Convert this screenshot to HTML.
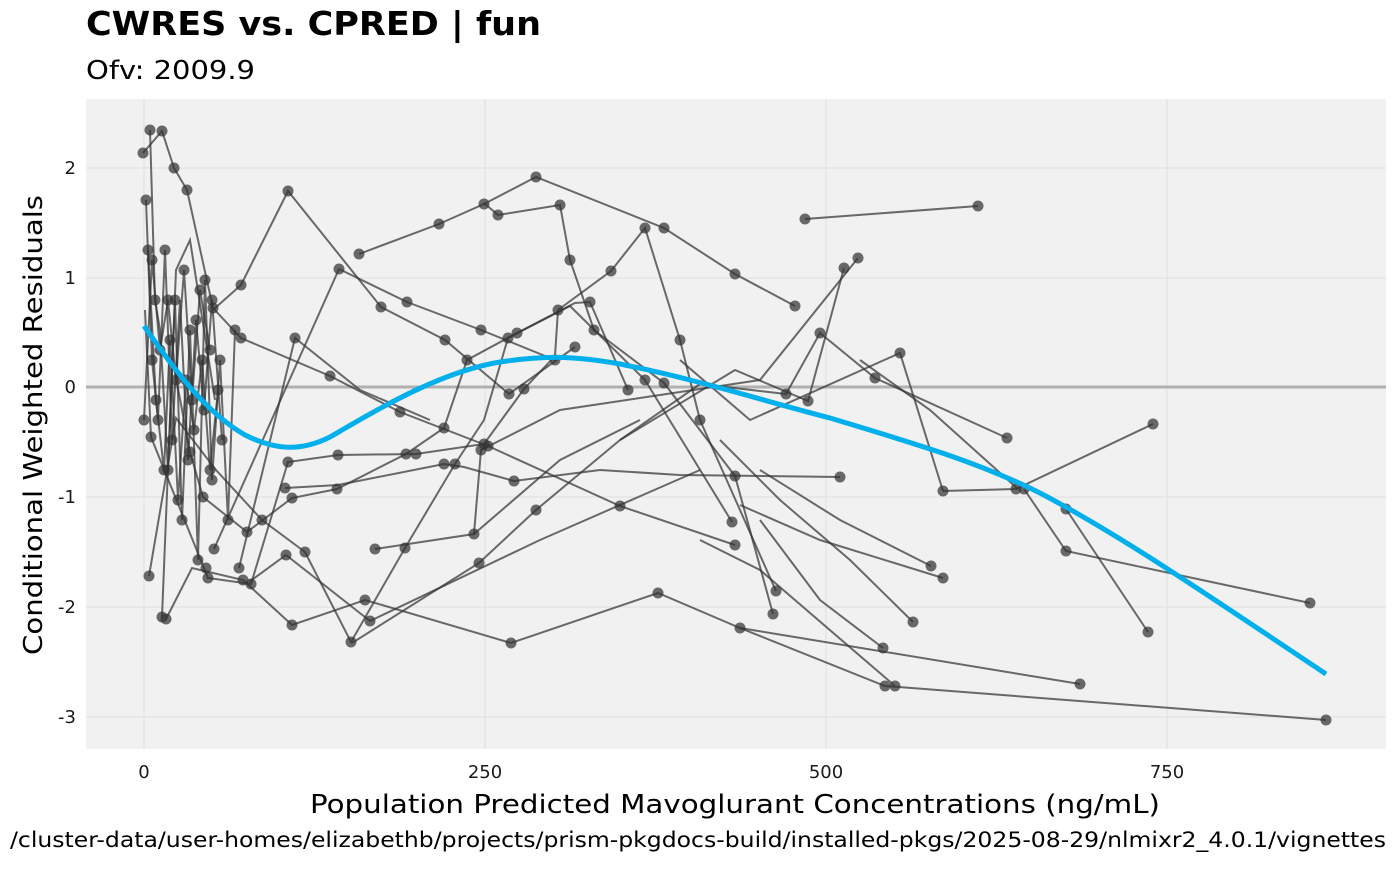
<!DOCTYPE html>
<html><head><meta charset="utf-8"><style>
body{margin:0;background:#fff;width:1400px;height:865px;overflow:hidden;font-family:"DejaVu Sans","Liberation Sans",sans-serif}
</style></head><body>
<svg width="1400" height="865" xmlns="http://www.w3.org/2000/svg" font-family="DejaVu Sans, Liberation Sans, sans-serif">
<rect x="86" y="99" width="1300" height="650" fill="#f1f1f1"/>
<g stroke="#e2e2e2" stroke-width="1.2">
<line x1="86" x2="1386" y1="168" y2="168"/><line x1="86" x2="1386" y1="278" y2="278"/><line x1="86" x2="1386" y1="497" y2="497"/><line x1="86" x2="1386" y1="607" y2="607"/><line x1="86" x2="1386" y1="717" y2="717"/>
<line y1="99" y2="749" x1="144" x2="144"/><line y1="99" y2="749" x1="485" x2="485"/><line y1="99" y2="749" x1="826" x2="826"/><line y1="99" y2="749" x1="1167" x2="1167"/>
</g>
<line x1="86" x2="1386" y1="387" y2="387" stroke="#b0b0b0" stroke-width="3"/>
<g fill="none" stroke="#333" stroke-opacity="0.72" stroke-width="2">
<polyline points="143,153 162,131 174,168 187,190 213,308 241,338 330,376 400,412 488,446 620,506 735,545"/>
<polyline points="214,309 241,285 288,191 381,307 445,340 509,394 575,347"/>
<polyline points="339,269 407,302 481,330 555,360"/>
<polyline points="214,549 339,269"/>
<polyline points="359,254 439,224 484,204 536,177 664,228 735,274 795,306"/>
<polyline points="805,219 978,206"/>
<polyline points="484,203 498,215 560,205 570,260 594,330 664,383 735,476 773,614"/>
<polyline points="145,310 151,437 208,578 251,584 288,462 338,455 416,454 484,444 524,389 555,356 558,310 611,271 645,228 680,340 700,420 776,591"/>
<polyline points="173,362 190,452 203,497 247,532 292,498 337,489 406,454 444,428 467,360 517,333 575,303 590,302 628,390"/>
<polyline points="149,576 176,418 216,470 262,520 305,552 351,642 405,548 455,464 484,420 508,338 570,306 645,380 732,522"/>
<polyline points="162,617 176,270 190,240 215,400"/>
<polyline points="166,619 192,568 243,580 292,625 365,600 511,643 658,593 740,628 885,686 1326,720"/>
<polyline points="352,643 479,563 536,510 620,440 700,384"/>
<polyline points="249,582 286,555 370,621 540,540 700,470"/>
<polyline points="375,549 474,534 560,460 640,420"/>
<polyline points="285,488 338,485 444,464 464,467 514,481 600,470 680,475 840,477"/>
<polyline points="474,534 481,450 560,410 660,395 760,380 858,258"/>
<polyline points="239,568 295,338 360,390 430,420"/>
<polyline points="620,440 735,370 808,401 844,268"/>
<polyline points="700,384 786,394 820,333 875,378 1007,438"/>
<polyline points="680,360 750,420 900,353 943,491"/>
<polyline points="1024,489 1066,551 1310,603"/>
<polyline points="1066,509 1148,632"/>
<polyline points="943,491 1016,489 1153,424"/>
<polyline points="1080,684 740,628"/>
<polyline points="895,686 760,570 700,540"/>
<polyline points="883,648 820,600 760,520"/>
<polyline points="913,622 850,560 780,500 720,440"/>
<polyline points="931,566 840,520 760,470"/>
<polyline points="943,578 820,540 740,505"/>
<polyline points="1018,489 930,410 860,360"/>
<polyline points="150,130 155,300 160,330 168,470 175,300 182,520 190,330 198,560 205,280 212,480 220,360 228,520 235,330"/>
<polyline points="146,200 152,360 158,420 165,250 172,440 180,300 188,460 196,320 204,410 212,300 222,440"/>
<polyline points="148,250 156,400 164,470 170,340 178,500 186,380 194,430 202,360 210,470 218,390"/>
<polyline points="144,420 152,260 160,350 168,300 176,380 184,270 192,400 200,290 210,350"/>
</g>
<g fill="#333" fill-opacity="0.72">
<circle cx="143" cy="153" r="5.5"/><circle cx="162" cy="131" r="5.5"/><circle cx="174" cy="168" r="5.5"/><circle cx="187" cy="190" r="5.5"/><circle cx="213" cy="308" r="5.5"/><circle cx="241" cy="338" r="5.5"/><circle cx="330" cy="376" r="5.5"/><circle cx="400" cy="412" r="5.5"/><circle cx="488" cy="446" r="5.5"/><circle cx="620" cy="506" r="5.5"/><circle cx="735" cy="545" r="5.5"/>
<circle cx="241" cy="285" r="5.5"/><circle cx="288" cy="191" r="5.5"/><circle cx="381" cy="307" r="5.5"/><circle cx="445" cy="340" r="5.5"/><circle cx="509" cy="394" r="5.5"/><circle cx="575" cy="347" r="5.5"/>
<circle cx="339" cy="269" r="5.5"/><circle cx="407" cy="302" r="5.5"/><circle cx="481" cy="330" r="5.5"/><circle cx="555" cy="360" r="5.5"/><circle cx="214" cy="549" r="5.5"/>
<circle cx="359" cy="254" r="5.5"/><circle cx="439" cy="224" r="5.5"/><circle cx="484" cy="204" r="5.5"/><circle cx="536" cy="177" r="5.5"/><circle cx="664" cy="228" r="5.5"/><circle cx="735" cy="274" r="5.5"/><circle cx="795" cy="306" r="5.5"/>
<circle cx="805" cy="219" r="5.5"/><circle cx="978" cy="206" r="5.5"/><circle cx="498" cy="215" r="5.5"/><circle cx="560" cy="205" r="5.5"/><circle cx="570" cy="260" r="5.5"/><circle cx="594" cy="330" r="5.5"/><circle cx="664" cy="383" r="5.5"/><circle cx="735" cy="476" r="5.5"/><circle cx="773" cy="614" r="5.5"/>
<circle cx="151" cy="437" r="5.5"/><circle cx="208" cy="578" r="5.5"/><circle cx="251" cy="584" r="5.5"/><circle cx="288" cy="462" r="5.5"/><circle cx="338" cy="455" r="5.5"/><circle cx="416" cy="454" r="5.5"/><circle cx="484" cy="444" r="5.5"/><circle cx="524" cy="389" r="5.5"/><circle cx="558" cy="310" r="5.5"/><circle cx="611" cy="271" r="5.5"/><circle cx="645" cy="228" r="5.5"/><circle cx="680" cy="340" r="5.5"/><circle cx="700" cy="420" r="5.5"/><circle cx="776" cy="591" r="5.5"/>
<circle cx="190" cy="452" r="5.5"/><circle cx="203" cy="497" r="5.5"/><circle cx="247" cy="532" r="5.5"/><circle cx="292" cy="498" r="5.5"/><circle cx="337" cy="489" r="5.5"/><circle cx="406" cy="454" r="5.5"/><circle cx="444" cy="428" r="5.5"/><circle cx="467" cy="360" r="5.5"/><circle cx="517" cy="333" r="5.5"/><circle cx="590" cy="302" r="5.5"/><circle cx="628" cy="390" r="5.5"/>
<circle cx="149" cy="576" r="5.5"/><circle cx="262" cy="520" r="5.5"/><circle cx="305" cy="552" r="5.5"/><circle cx="351" cy="642" r="5.5"/><circle cx="405" cy="548" r="5.5"/><circle cx="455" cy="464" r="5.5"/><circle cx="508" cy="338" r="5.5"/><circle cx="645" cy="380" r="5.5"/><circle cx="732" cy="522" r="5.5"/>
<circle cx="162" cy="617" r="5.5"/><circle cx="166" cy="619" r="5.5"/><circle cx="243" cy="580" r="5.5"/><circle cx="292" cy="625" r="5.5"/><circle cx="365" cy="600" r="5.5"/><circle cx="511" cy="643" r="5.5"/><circle cx="658" cy="593" r="5.5"/><circle cx="740" cy="628" r="5.5"/><circle cx="885" cy="686" r="5.5"/><circle cx="1326" cy="720" r="5.5"/>
<circle cx="479" cy="563" r="5.5"/><circle cx="536" cy="510" r="5.5"/><circle cx="286" cy="555" r="5.5"/><circle cx="370" cy="621" r="5.5"/><circle cx="375" cy="549" r="5.5"/><circle cx="474" cy="534" r="5.5"/><circle cx="285" cy="488" r="5.5"/><circle cx="444" cy="464" r="5.5"/><circle cx="514" cy="481" r="5.5"/><circle cx="840" cy="477" r="5.5"/><circle cx="481" cy="450" r="5.5"/><circle cx="858" cy="258" r="5.5"/><circle cx="844" cy="268" r="5.5"/><circle cx="808" cy="401" r="5.5"/><circle cx="786" cy="394" r="5.5"/><circle cx="820" cy="333" r="5.5"/><circle cx="875" cy="378" r="5.5"/><circle cx="900" cy="353" r="5.5"/><circle cx="1007" cy="438" r="5.5"/><circle cx="943" cy="491" r="5.5"/><circle cx="1016" cy="489" r="5.5"/><circle cx="1024" cy="489" r="5.5"/><circle cx="1066" cy="551" r="5.5"/><circle cx="1310" cy="603" r="5.5"/><circle cx="1066" cy="509" r="5.5"/><circle cx="1148" cy="632" r="5.5"/><circle cx="1153" cy="424" r="5.5"/><circle cx="1080" cy="684" r="5.5"/><circle cx="895" cy="686" r="5.5"/><circle cx="883" cy="648" r="5.5"/><circle cx="913" cy="622" r="5.5"/><circle cx="931" cy="566" r="5.5"/><circle cx="943" cy="578" r="5.5"/><circle cx="295" cy="338" r="5.5"/><circle cx="239" cy="568" r="5.5"/><circle cx="206" cy="568" r="5.5"/>
<circle cx="150" cy="130" r="5.5"/><circle cx="155" cy="300" r="5.5"/><circle cx="168" cy="470" r="5.5"/><circle cx="175" cy="300" r="5.5"/><circle cx="182" cy="520" r="5.5"/><circle cx="190" cy="330" r="5.5"/><circle cx="198" cy="560" r="5.5"/><circle cx="205" cy="280" r="5.5"/><circle cx="212" cy="480" r="5.5"/><circle cx="220" cy="360" r="5.5"/><circle cx="228" cy="520" r="5.5"/><circle cx="235" cy="330" r="5.5"/>
<circle cx="146" cy="200" r="5.5"/><circle cx="152" cy="360" r="5.5"/><circle cx="158" cy="420" r="5.5"/><circle cx="165" cy="250" r="5.5"/><circle cx="172" cy="440" r="5.5"/><circle cx="188" cy="460" r="5.5"/><circle cx="196" cy="320" r="5.5"/><circle cx="204" cy="410" r="5.5"/><circle cx="212" cy="300" r="5.5"/><circle cx="222" cy="440" r="5.5"/>
<circle cx="148" cy="250" r="5.5"/><circle cx="156" cy="400" r="5.5"/><circle cx="164" cy="470" r="5.5"/><circle cx="170" cy="340" r="5.5"/><circle cx="178" cy="500" r="5.5"/><circle cx="186" cy="380" r="5.5"/><circle cx="194" cy="430" r="5.5"/><circle cx="202" cy="360" r="5.5"/><circle cx="210" cy="470" r="5.5"/><circle cx="218" cy="390" r="5.5"/>
<circle cx="144" cy="420" r="5.5"/><circle cx="152" cy="260" r="5.5"/><circle cx="160" cy="350" r="5.5"/><circle cx="168" cy="300" r="5.5"/><circle cx="176" cy="380" r="5.5"/><circle cx="184" cy="270" r="5.5"/><circle cx="192" cy="400" r="5.5"/><circle cx="200" cy="290" r="5.5"/><circle cx="210" cy="350" r="5.5"/>
</g>
<path d="M144,326 C175,370 205,412 245,435 C275,450 300,452 330,437 C380,408 440,372 500,362 C540,356 570,355 620,364 C700,380 760,400 830,418 C920,445 980,463 1040,493 C1120,535 1200,590 1326,674" fill="none" stroke="#00b0ec" stroke-width="5"/>
<g font-size="18" fill="#1a1a1a" text-anchor="end">
<text x="76" y="174">2</text><text x="76" y="284">1</text><text x="76" y="393">0</text><text x="76" y="503">-1</text><text x="76" y="613">-2</text><text x="76" y="723">-3</text>
</g>
<g font-size="18" fill="#1a1a1a" text-anchor="middle">
<text x="144" y="778">0</text><text x="485" y="778">250</text><text x="826" y="778">500</text><text x="1167" y="778">750</text>
</g>
<text x="310" y="813" font-size="26" fill="#000" textLength="850" lengthAdjust="spacingAndGlyphs">Population Predicted Mavoglurant Concentrations (ng/mL)</text>
<text transform="translate(42,655) rotate(-90)" font-size="26" fill="#000" textLength="460" lengthAdjust="spacingAndGlyphs">Conditional Weighted Residuals</text>
<text x="86" y="35" font-size="33" font-weight="bold" fill="#000" textLength="455" lengthAdjust="spacingAndGlyphs">CWRES vs. CPRED | fun</text>
<text x="86" y="79" font-size="26" fill="#000" textLength="169" lengthAdjust="spacingAndGlyphs">Ofv: 2009.9</text>
<text x="10" y="847" font-size="21" fill="#000" textLength="1376" lengthAdjust="spacingAndGlyphs">/cluster-data/user-homes/elizabethb/projects/prism-pkgdocs-build/installed-pkgs/2025-08-29/nlmixr2_4.0.1/vignettes</text>
</svg>
</body></html>
